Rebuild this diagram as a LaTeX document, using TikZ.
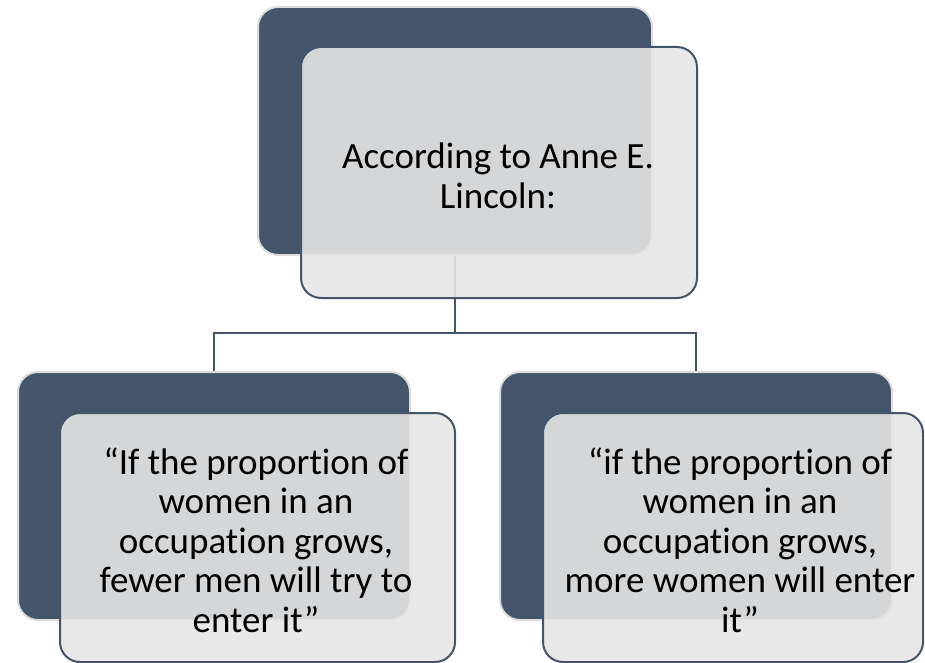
\documentclass[tikz,border=0pt]{standalone}
\usepackage{fontspec}
\setmainfont{Carlito}[Ligatures=NoCommon]
\definecolor{slate}{HTML}{44546A}
\definecolor{frontgray}{HTML}{E5E5E5}
\definecolor{rimgray}{HTML}{DCDCDC}
\tikzset{
  backbox/.style={rectangle, rounded corners=20, fill=slate, draw=rimgray, line width=2pt, inner sep=0pt},
  frontbox/.style={rectangle, rounded corners=20, fill=frontgray, fill opacity=0.9, draw=slate, draw opacity=1, line width=2pt, inner sep=0pt},
  txt/.style={align=center, text=black, font=\fontsize{37}{39.5}\selectfont, inner sep=0pt},
  conn/.style={draw=slate, line width=2.5pt}
}
\begin{document}
\begin{tikzpicture}[x=1pt,y=-1pt]
\useasboundingbox (0,0) rectangle (925,663);
% back boxes
\node[backbox, minimum width=394pt, minimum height=248pt] (tb) at (455,131) {};
\node[backbox, minimum width=392pt, minimum height=248pt] (lb) at (214,496) {};
\node[backbox, minimum width=392pt, minimum height=248pt] (rb) at (696,496) {};
% connectors
\coordinate (j) at (455,333);
\draw[conn] (tb.south) -- (j);
\draw[conn] (j) -| (lb.north);
\draw[conn] (j) -| (rb.north);
% front boxes
\node[frontbox, minimum width=396pt, minimum height=251pt] (tf) at (499,172.5) {};
\node[frontbox, minimum width=395pt, minimum height=249pt] (lf) at (257.5,537.5) {};
\node[frontbox, minimum width=380pt, minimum height=249pt] (rf) at (733,537.5) {};
% texts
\node[txt] (tt) at (498,176) {According to Anne E.\\Lincoln:};
\node[txt] (lt) at (256,540) {“If the proportion of\\women in an\\occupation grows,\\fewer men will try to\\enter it”};
\node[txt] (rt) at (740,540) {“if the proportion of\\women in an\\occupation grows,\\more women will enter\\it”};
\end{tikzpicture}
\end{document}
